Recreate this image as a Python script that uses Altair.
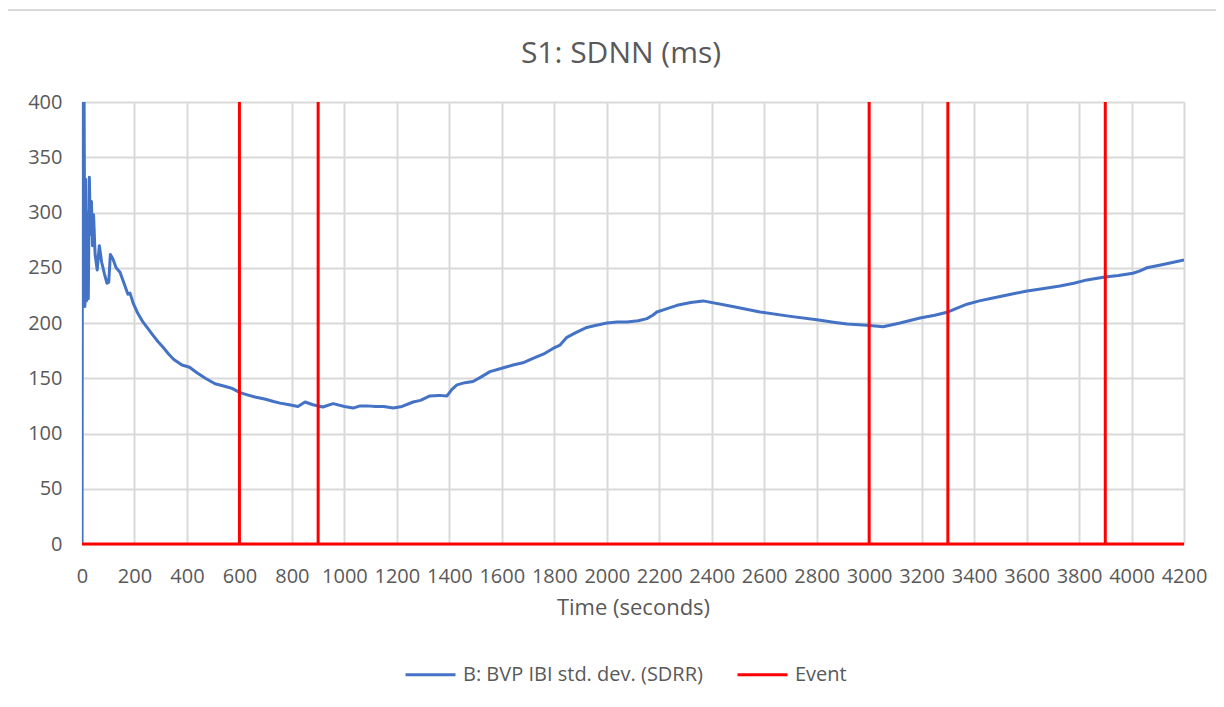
import altair as alt
import pandas as pd

# Blue series: time (s) and SDNN (ms)
TIME = [0, 2, 5, 8, 11, 14, 17, 20, 24, 28, 32, 36, 40, 44, 50, 58, 66, 75, 85, 95, 102,
        108, 118, 130, 145, 160, 175, 183, 195, 210, 232, 248, 270, 290, 309, 330, 350,
        381, 410, 438, 470, 507, 540, 570, 602, 630, 659, 700, 730, 755, 790, 823, 850,
        880, 918, 957, 1000, 1033, 1060, 1085, 1120, 1150, 1186, 1220, 1262, 1290, 1326,
        1360, 1391, 1410, 1429, 1460, 1490, 1520, 1555, 1600, 1643, 1680, 1719, 1760,
        1795, 1822, 1848, 1880, 1924, 1960, 2001, 2040, 2077, 2120, 2153, 2175, 2191,
        2230, 2268, 2320, 2367, 2480, 2584, 2700, 2801, 2870, 2916, 2992, 3053, 3118,
        3194, 3250, 3301, 3340, 3373, 3420, 3472, 3540, 3602, 3660, 3727, 3780, 3830,
        3899, 3950, 4005, 4030, 4059, 4120, 4160, 4200]
SDNN = [0, 430, 230, 400, 215, 330, 220, 300, 222, 332, 280, 310, 270, 298, 262, 248, 270,
        255, 245, 236, 237, 262, 258, 250, 246, 236, 226, 227, 218, 210, 201, 196, 189, 183,
        178, 172, 167, 162, 160, 155, 150, 145, 143, 141, 137, 135, 133, 131, 129, 127.5,
        126, 124.5, 128.5, 126, 124, 127, 124.5, 123, 125, 125, 124.5, 124.5, 123, 124.5,
        128.5, 130, 134, 134.5, 134, 140, 144, 146, 147, 151, 156, 159, 162, 164, 168, 172,
        177, 180, 187, 191, 196, 198, 200, 201, 201, 202, 204, 207, 210, 213, 216, 218.5,
        220, 215, 210, 206, 203, 200.5, 199, 198, 196.6, 200, 204.5, 207, 210, 214, 217,
        220, 222.6, 226, 229, 231, 233.5, 236, 239, 241.6, 243, 245, 247, 250, 253, 255, 257]

EVENT_TIMES = [600, 900, 3000, 3300, 3900]
EVENT_HIGH = 400
X_END = 4200

TITLE = "S1: SDNN (ms)"
SERIES_NAMES = ["B: BVP IBI std. dev. (SDRR)", "Event"]
COLORS = ["#4472C4", "#FF0000"]

blue = pd.DataFrame({"t": TIME, "v": SDNN, "s": SERIES_NAMES[0]})
blue["o"] = range(len(blue))

ev_t, ev_v = [0], [0]
for et in EVENT_TIMES:
    ev_t += [et, et, et]
    ev_v += [0, EVENT_HIGH, 0]
ev_t.append(X_END)
ev_v.append(0)
event = pd.DataFrame({"t": ev_t, "v": ev_v, "s": SERIES_NAMES[1]})
event["o"] = range(len(event))

FONT = "Open Sans"
GRAY = "#595959"

x = alt.X("t:Q", title="Time (seconds)",
          scale=alt.Scale(domain=[0, 4200], nice=False, zero=False),
          axis=alt.Axis(values=list(range(0, 4201, 200)), format="d", grid=True, domain=False,
                        ticks=False, labelPadding=22, titlePadding=11, labelFontSize=20,
                        titleFontSize=22, labelFont=FONT, titleFont=FONT, labelColor=GRAY,
                        titleColor=GRAY, titleFontWeight="normal", gridColor="#d9d9d9",
                        gridWidth=2, labelFlush=False))
y = alt.Y("v:Q", title=None,
          scale=alt.Scale(domain=[0, 400], nice=False),
          axis=alt.Axis(values=list(range(0, 401, 50)), grid=True, domain=False, ticks=False,
                        labelPadding=20, labelFontSize=20, labelFont=FONT, labelColor=GRAY,
                        gridColor="#d9d9d9", gridWidth=2))

color = alt.Color("s:N", title=None,
                  scale=alt.Scale(domain=SERIES_NAMES, range=COLORS),
                  sort=SERIES_NAMES,
                  legend=alt.Legend(orient="none", legendX=322, legendY=546,
                                    direction="horizontal", symbolType="stroke",
                                    symbolSize=2500, symbolStrokeWidth=3,
                                    labelFontSize=20, labelFont=FONT, labelColor=GRAY,
                                    labelOffset=6, columnPadding=28, labelLimit=400))

blue_line = alt.Chart(blue).mark_line(strokeWidth=3, clip=True, strokeJoin="round").encode(
    x=x, y=y, color=color, order="o:Q")

event_line = alt.Chart(event).mark_line(strokeWidth=3, strokeJoin="miter").encode(
    x=x, y=y, color=color, order="o:Q")

border = alt.Chart(pd.DataFrame({"a": [0]})).mark_rule(color="#d9d9d9", strokeWidth=2).encode(
    x=alt.value(-74), x2=alt.value(1134), y=alt.value(-92))

title = alt.Chart(pd.DataFrame({"label": [TITLE]})).mark_text(
    font=FONT, fontSize=30, color=GRAY, align="center", baseline="middle").encode(
    text="label:N", x=alt.value(539), y=alt.value(-48))

chart = alt.layer(border, title, blue_line, event_line).properties(
    width=1102, height=442,
    autosize=alt.AutoSizeParams(type="none"),
    padding={"left": 74, "top": 94, "right": 32, "bottom": 155},
).configure_view(stroke=None).configure(background="white")

chart.save("out.html", embed_options={"renderer": "svg", "actions": False})
